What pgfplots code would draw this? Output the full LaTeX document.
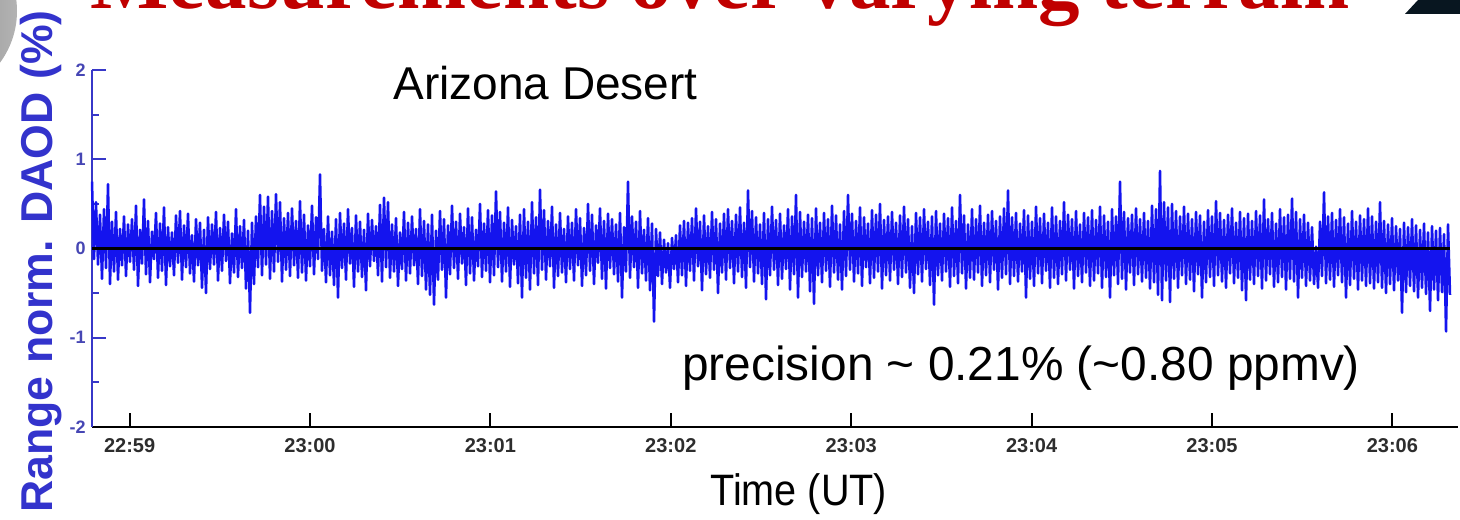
\documentclass[border=0pt]{standalone}
\usepackage{fontspec}
\setmainfont{Liberation Sans}
\newfontfamily\titlefont{Liberation Serif}
\usepackage{pgfplots}
\pgfplotsset{compat=1.18}
\definecolor{sig}{RGB}{20,20,238}
\definecolor{ycol}{RGB}{55,55,200}
\definecolor{ylab}{RGB}{70,70,180}
\definecolor{ytitle}{RGB}{51,51,204}
\definecolor{xlab}{RGB}{45,45,45}
\definecolor{titlered}{RGB}{192,0,0}
\definecolor{corner}{RGB}{8,22,32}
\begin{document}
\begin{tikzpicture}
\clip (0,0) rectangle (730pt,259.5pt);
% slide decorations
\shade[left color=black!60, right color=black!30] (-35pt,254pt) circle (43.5pt);
\fill[corner] (702.5pt,252.5pt) -- (709pt,259.5pt) -- (731pt,259.5pt) -- (731pt,252.5pt) -- cycle;
\node[anchor=base west, inner sep=0pt, text=titlered, font=\titlefont\bfseries\fontsize{41.5}{45}\selectfont]
  at (45pt,255pt) {Measurements over varying terrain};
\begin{axis}[
  at={(46pt,46pt)}, anchor=south west,
  scale only axis, width=683pt, height=178.5pt,
  xmin=0, xmax=683, ymin=-2, ymax=2,
  axis x line*=bottom, axis y line*=left,
  x axis line style={black, line width=1.2pt},
  y axis line style={ycol, line width=1.2pt},
  tick align=inside,
  xtick={18.8,109.0,199.2,289.4,379.6,469.8,560.0,650.2},
  xticklabels={22:59,23:00,23:01,23:02,23:03,23:04,23:05,23:06},
  ytick={-2,-1,0,1,2}, yticklabels={-2,-1,0,1,2},
  minor ytick={-1.5,-0.5,0.5,1.5},
  major tick length=7pt, minor tick length=3.5pt,
  xtick style={black, line width=1pt},
  ytick style={ycol, line width=1pt},
  xticklabel style={font=\bfseries\fontsize{10}{12}\selectfont, text=xlab, yshift=-2pt},
  yticklabel style={font=\bfseries\fontsize{9}{11}\selectfont, text=ylab, inner sep=1pt, xshift=-2pt},
  clip=false,
]
\addplot[color=sig, line width=1.25pt, line join=round] table[row sep=\\, header=false, x expr=\coordindex, y index=0] {
0.75\\ -0.12\\ 0.52\\ -0.18\\ 0.38\\ -0.34\\ 0.44\\ -0.22\\ 0.72\\ -0.40\\ 0.30\\ -0.26\\ 0.41\\ -0.35\\ 0.22\\ -0.19\\ 0.36\\ -0.31\\ 0.27\\ -0.15\\
0.33\\ -0.24\\ 0.48\\ -0.42\\ 0.21\\ -0.17\\ 0.55\\ -0.29\\ 0.31\\ -0.38\\ 0.19\\ -0.12\\ 0.40\\ -0.33\\ 0.28\\ -0.25\\ 0.46\\ -0.41\\ 0.24\\ -0.20\\
0.18\\ -0.30\\ 0.37\\ -0.16\\ 0.42\\ -0.35\\ 0.26\\ -0.21\\ 0.39\\ -0.28\\ 0.15\\ -0.37\\ 0.33\\ -0.19\\ 0.29\\ -0.44\\ 0.21\\ -0.50\\ 0.35\\ -0.23\\
0.27\\ -0.18\\ 0.41\\ -0.36\\ 0.23\\ -0.25\\ 0.38\\ -0.14\\ 0.30\\ -0.39\\ 0.17\\ -0.27\\ 0.44\\ -0.32\\ 0.25\\ -0.22\\ 0.32\\ -0.45\\ 0.20\\ -0.72\\
0.29\\ -0.40\\ 0.36\\ -0.21\\ 0.60\\ -0.30\\ 0.47\\ -0.18\\ 0.58\\ -0.34\\ 0.42\\ -0.26\\ 0.61\\ -0.15\\ 0.52\\ -0.37\\ 0.34\\ -0.24\\ 0.40\\ -0.31\\
0.45\\ -0.19\\ 0.31\\ -0.33\\ 0.53\\ -0.27\\ 0.38\\ -0.36\\ 0.26\\ -0.20\\ 0.48\\ -0.29\\ 0.35\\ -0.12\\ 0.83\\ -0.25\\ 0.22\\ -0.38\\ 0.36\\ -0.30\\
0.19\\ -0.41\\ 0.33\\ -0.55\\ 0.40\\ -0.22\\ 0.28\\ -0.35\\ 0.44\\ -0.17\\ 0.23\\ -0.43\\ 0.37\\ -0.26\\ 0.30\\ -0.32\\ 0.21\\ -0.47\\ 0.39\\ -0.20\\
0.32\\ -0.14\\ 0.25\\ -0.30\\ 0.49\\ -0.37\\ 0.57\\ -0.21\\ 0.52\\ -0.33\\ 0.27\\ -0.26\\ 0.34\\ -0.42\\ 0.18\\ -0.23\\ 0.41\\ -0.36\\ 0.29\\ -0.28\\
0.36\\ -0.19\\ 0.22\\ -0.40\\ 0.44\\ -0.31\\ 0.31\\ -0.46\\ 0.27\\ -0.52\\ 0.38\\ -0.63\\ 0.20\\ -0.35\\ 0.42\\ -0.24\\ 0.33\\ -0.55\\ 0.26\\ -0.29\\
0.48\\ -0.22\\ 0.30\\ -0.34\\ 0.39\\ -0.17\\ 0.24\\ -0.41\\ 0.45\\ -0.28\\ 0.35\\ -0.36\\ 0.21\\ -0.20\\ 0.50\\ -0.32\\ 0.28\\ -0.25\\ 0.43\\ -0.38\\
0.37\\ -0.30\\ 0.64\\ -0.21\\ 0.41\\ -0.37\\ 0.29\\ -0.26\\ 0.46\\ -0.43\\ 0.32\\ -0.18\\ 0.25\\ -0.39\\ 0.38\\ -0.55\\ 0.44\\ -0.33\\ 0.30\\ -0.46\\
0.52\\ -0.28\\ 0.35\\ -0.41\\ 0.66\\ -0.24\\ 0.43\\ -0.35\\ 0.31\\ -0.20\\ 0.47\\ -0.44\\ 0.27\\ -0.31\\ 0.40\\ -0.27\\ 0.22\\ -0.38\\ 0.36\\ -0.23\\
0.29\\ -0.36\\ 0.44\\ -0.19\\ 0.34\\ -0.42\\ 0.23\\ -0.30\\ 0.50\\ -0.25\\ 0.38\\ -0.40\\ 0.26\\ -0.16\\ 0.45\\ -0.34\\ 0.31\\ -0.45\\ 0.39\\ -0.22\\
0.33\\ -0.29\\ 0.27\\ -0.37\\ 0.40\\ -0.55\\ 0.24\\ -0.26\\ 0.75\\ -0.33\\ 0.36\\ -0.21\\ 0.30\\ -0.44\\ 0.42\\ -0.28\\ 0.21\\ -0.36\\ 0.34\\ -0.47\\
0.28\\ -0.82\\ 0.22\\ -0.31\\ 0.18\\ -0.40\\ 0.10\\ -0.27\\ 0.06\\ -0.44\\ 0.12\\ -0.23\\ 0.15\\ -0.38\\ 0.26\\ -0.30\\ 0.31\\ -0.42\\ 0.29\\ -0.25\\
0.34\\ -0.36\\ 0.45\\ -0.20\\ 0.30\\ -0.47\\ 0.37\\ -0.29\\ 0.25\\ -0.33\\ 0.41\\ -0.24\\ 0.33\\ -0.50\\ 0.28\\ -0.27\\ 0.39\\ -0.35\\ 0.44\\ -0.22\\
0.31\\ -0.39\\ 0.38\\ -0.26\\ 0.46\\ -0.32\\ 0.29\\ -0.44\\ 0.65\\ -0.21\\ 0.42\\ -0.37\\ 0.35\\ -0.28\\ 0.27\\ -0.40\\ 0.40\\ -0.57\\ 0.33\\ -0.30\\
0.47\\ -0.24\\ 0.32\\ -0.41\\ 0.39\\ -0.34\\ 0.26\\ -0.23\\ 0.44\\ -0.46\\ 0.36\\ -0.29\\ 0.60\\ -0.55\\ 0.41\\ -0.32\\ 0.30\\ -0.26\\ 0.38\\ -0.48\\
0.34\\ -0.62\\ 0.45\\ -0.30\\ 0.29\\ -0.38\\ 0.40\\ -0.25\\ 0.33\\ -0.43\\ 0.48\\ -0.27\\ 0.37\\ -0.35\\ 0.27\\ -0.46\\ 0.42\\ -0.31\\ 0.60\\ -0.24\\
0.39\\ -0.37\\ 0.31\\ -0.28\\ 0.46\\ -0.42\\ 0.35\\ -0.21\\ 0.28\\ -0.39\\ 0.43\\ -0.33\\ 0.38\\ -0.26\\ 0.50\\ -0.45\\ 0.32\\ -0.30\\ 0.36\\ -0.36\\
0.41\\ -0.24\\ 0.29\\ -0.40\\ 0.37\\ -0.32\\ 0.47\\ -0.27\\ 0.33\\ -0.44\\ 0.25\\ -0.50\\ 0.40\\ -0.29\\ 0.35\\ -0.37\\ 0.44\\ -0.23\\ 0.30\\ -0.41\\
0.36\\ -0.63\\ 0.42\\ -0.30\\ 0.28\\ -0.36\\ 0.39\\ -0.26\\ 0.34\\ -0.43\\ 0.46\\ -0.31\\ 0.31\\ -0.39\\ 0.60\\ -0.28\\ 0.37\\ -0.45\\ 0.27\\ -0.33\\
0.44\\ -0.35\\ 0.33\\ -0.27\\ 0.48\\ -0.42\\ 0.29\\ -0.30\\ 0.38\\ -0.38\\ 0.42\\ -0.24\\ 0.31\\ -0.46\\ 0.36\\ -0.33\\ 0.45\\ -0.29\\ 0.65\\ -0.40\\
0.35\\ -0.31\\ 0.40\\ -0.37\\ 0.28\\ -0.26\\ 0.43\\ -0.55\\ 0.37\\ -0.34\\ 0.30\\ -0.42\\ 0.47\\ -0.28\\ 0.34\\ -0.39\\ 0.39\\ -0.25\\ 0.29\\ -0.44\\
0.46\\ -0.33\\ 0.36\\ -0.40\\ 0.31\\ -0.29\\ 0.52\\ -0.36\\ 0.38\\ -0.24\\ 0.33\\ -0.45\\ 0.42\\ -0.31\\ 0.27\\ -0.38\\ 0.40\\ -0.27\\ 0.35\\ -0.42\\
0.43\\ -0.36\\ 0.32\\ -0.28\\ 0.47\\ -0.44\\ 0.37\\ -0.32\\ 0.30\\ -0.55\\ 0.44\\ -0.30\\ 0.36\\ -0.40\\ 0.75\\ -0.34\\ 0.41\\ -0.46\\ 0.34\\ -0.27\\
0.38\\ -0.41\\ 0.45\\ -0.29\\ 0.33\\ -0.37\\ 0.40\\ -0.33\\ 0.31\\ -0.45\\ 0.48\\ -0.38\\ 0.44\\ -0.52\\ 0.87\\ -0.58\\ 0.52\\ -0.36\\ 0.46\\ -0.60\\
0.50\\ -0.34\\ 0.42\\ -0.44\\ 0.36\\ -0.30\\ 0.47\\ -0.40\\ 0.39\\ -0.35\\ 0.33\\ -0.48\\ 0.41\\ -0.29\\ 0.37\\ -0.55\\ 0.30\\ -0.38\\ 0.43\\ -0.32\\
0.36\\ -0.42\\ 0.53\\ -0.30\\ 0.40\\ -0.37\\ 0.32\\ -0.44\\ 0.38\\ -0.28\\ 0.45\\ -0.39\\ 0.29\\ -0.33\\ 0.41\\ -0.47\\ 0.34\\ -0.58\\ 0.39\\ -0.35\\
0.31\\ -0.40\\ 0.42\\ -0.31\\ 0.37\\ -0.45\\ 0.55\\ -0.36\\ 0.33\\ -0.29\\ 0.40\\ -0.43\\ 0.28\\ -0.38\\ 0.44\\ -0.32\\ 0.35\\ -0.46\\ 0.38\\ -0.34\\
0.56\\ -0.37\\ 0.41\\ -0.55\\ 0.33\\ -0.33\\ 0.38\\ -0.42\\ 0.29\\ -0.36\\ 0.24\\ -0.40\\ 0.02\\ -0.44\\ 0.30\\ -0.31\\ 0.63\\ -0.39\\ 0.36\\ -0.35\\
0.40\\ -0.43\\ 0.32\\ -0.30\\ 0.44\\ -0.38\\ 0.35\\ -0.55\\ 0.28\\ -0.41\\ 0.42\\ -0.34\\ 0.30\\ -0.46\\ 0.37\\ -0.36\\ 0.33\\ -0.42\\ 0.45\\ -0.39\\
0.36\\ -0.45\\ 0.30\\ -0.38\\ 0.52\\ -0.44\\ 0.31\\ -0.50\\ 0.27\\ -0.40\\ 0.34\\ -0.47\\ 0.25\\ -0.36\\ 0.22\\ -0.72\\ 0.29\\ -0.49\\ 0.24\\ -0.42\\
0.33\\ -0.48\\ 0.26\\ -0.55\\ 0.21\\ -0.44\\ 0.28\\ -0.51\\ 0.18\\ -0.70\\ 0.25\\ -0.46\\ 0.20\\ -0.58\\ 0.23\\ -0.49\\ 0.16\\ -0.93\\ 0.27\\ -0.52\\
};
% zero reference line
\addplot[black, line width=1.5pt] coordinates {(0,0) (679,0)};
\end{axis}
\node[anchor=base west, inner sep=0pt, font=\fontsize{23}{27}\selectfont] at (196.5pt,209.5pt) {Arizona Desert};
\node[anchor=base west, inner sep=0pt, font=\fontsize{23.9}{28}\selectfont] at (341pt,69pt)
  {precision \textasciitilde{} 0.21\% (\textasciitilde0.80 ppmv)};
\node[anchor=base west, inner sep=0pt, font=\fontsize{22}{26}\selectfont] at (355pt,7pt)
  {\scalebox{0.9}[1]{Time (UT)}};
\node[anchor=base, rotate=90, inner sep=0pt, text=ytitle, font=\bfseries\fontsize{22.3}{26}\selectfont]
  at (26pt,128.75pt) {Range norm. DAOD (\%)};
\end{tikzpicture}
\end{document}
